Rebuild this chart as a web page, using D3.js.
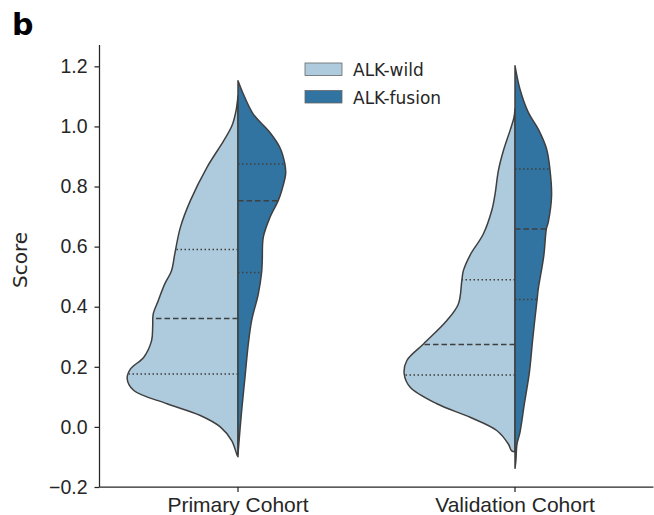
<!DOCTYPE html>
<html lang="en">
<head>
  <meta charset="utf-8">
  <title>Split violin</title>
  <script src="https://cdn.jsdelivr.net/npm/d3@7"></script>
  <style>
    body { margin: 0; background: #fff; }
    svg { display: block; font-family: "DejaVu Sans", sans-serif; }
    .axis path, .axis line { stroke: #262626; stroke-width: 1.25; }
    .axis text { fill: #262626; }
  </style>
</head>
<body>
<script>
  // categories and groups
  var cohorts = ["Primary Cohort", "Validation Cohort"];
  var groups = ["ALK-wild", "ALK-fusion"];
  var yTicks = [-0.2, 0.0, 0.2, 0.4, 0.6, 0.8, 1.0, 1.2];

  // density profiles: [score, relative density]
  var primaryWild = [[-0.099, 0], [-0.096, 0.006], [-0.046, 0.057], [0.0, 0.16], [0.038, 0.34],
    [0.077, 0.64], [0.121, 0.94], [0.16, 1.0], [0.193, 0.97], [0.232, 0.85], [0.287, 0.78],
    [0.334, 0.77], [0.376, 0.765], [0.42, 0.72], [0.477, 0.66], [0.52, 0.6], [0.577, 0.57],
    [0.664, 0.52], [0.753, 0.43], [0.864, 0.28], [0.952, 0.13], [1.002, 0.055], [1.052, 0.018], [1.102, 0]];
  var primaryFusion = [[-0.09, 0], [0.054, 0.033], [0.165, 0.063], [0.276, 0.093], [0.354, 0.123],
    [0.442, 0.183], [0.514, 0.213], [0.553, 0.219], [0.631, 0.228], [0.697, 0.288], [0.753, 0.363],
    [0.786, 0.394], [0.842, 0.43], [0.875, 0.423], [0.93, 0.378], [0.98, 0.288], [1.041, 0.138],
    [1.108, 0.048], [1.152, 0]];
  var validationWild = [[-0.083, 0], [-0.08, 0.03], [-0.057, 0.06], [-0.012, 0.165], [0.032, 0.405],
    [0.077, 0.705], [0.132, 0.946], [0.176, 1.0], [0.221, 0.976], [0.276, 0.826], [0.354, 0.615],
    [0.409, 0.511], [0.487, 0.48], [0.52, 0.466], [0.572, 0.405], [0.642, 0.286], [0.72, 0.21],
    [0.775, 0.18], [0.853, 0.15], [0.919, 0.105], [0.986, 0.045], [1.029, 0.01], [1.059, 0]];
  var validationFusion = [[-0.138, 0], [-0.112, 0.008], [-0.057, 0.018], [-0.018, 0.045], [0.078, 0.085],
    [0.182, 0.13], [0.293, 0.16], [0.426, 0.2], [0.459, 0.21], [0.57, 0.26], [0.659, 0.283],
    [0.681, 0.3], [0.769, 0.33], [0.858, 0.315], [0.925, 0.285], [0.991, 0.21], [1.047, 0.12],
    [1.124, 0.045], [1.202, 0]];

  // quartiles [Q1, median, Q3]
  var primaryWildQ = [0.176, 0.361, 0.59];
  var primaryFusionQ = [0.514, 0.753, 0.875];
  var validationWildQ = [0.173, 0.274, 0.49];
  var validationFusionQ = [0.424, 0.659, 0.858];

  var violins = [
    {cohort: cohorts[0], group: groups[0], dens: primaryWild, q: primaryWildQ},
    {cohort: cohorts[0], group: groups[1], dens: primaryFusion, q: primaryFusionQ},
    {cohort: cohorts[1], group: groups[0], dens: validationWild, q: validationWildQ},
    {cohort: cohorts[1], group: groups[1], dens: validationFusion, q: validationFusionQ}
  ];

  var width = 654, height = 515;
  var lineGray = "#3f3f3f";

  var color = d3.scaleOrdinal().domain(groups).range(["#aecbdd", "#3274a1"]);

  var x = d3.scaleBand().domain(cohorts).range([99.5, 653.5]).padding(0);
  var y = d3.scaleLinear().domain([-0.2, 1.271]).range([487, 45]);
  var w = d3.scaleLinear().domain([0, 1]).range([0, x.bandwidth() * 0.4]);

  var svg = d3.select("body").append("svg")
    .attr("width", width)
    .attr("height", height);

  // linear lookup of the density at a score
  function densAt(dens, v) {
    for (var i = 1; i < dens.length; i++) {
      if (v <= dens[i][0]) {
        var a = dens[i - 1], b = dens[i];
        var t = (v - a[0]) / (b[0] - a[0]);
        return a[1] + t * (b[1] - a[1]);
      }
    }
    return 0;
  }

  violins.forEach(function (d) {
    var cx = x(d.cohort) + x.bandwidth() / 2;
    var side = d.group === groups[0] ? -1 : 1;

    var area = d3.area()
      .y(function (p) { return y(p[0]); })
      .x0(cx)
      .x1(function (p) { return cx + side * w(p[1]); })
      .curve(d3.curveCatmullRom.alpha(0.5));

    svg.append("path")
      .datum(d.dens)
      .attr("d", area)
      .attr("fill", color(d.group))
      .attr("stroke", lineGray)
      .attr("stroke-width", 1.5)
      .attr("stroke-linejoin", "round");

    // quartile lines
    svg.selectAll(null)
      .data(d.q)
      .enter().append("line")
      .attr("x1", cx)
      .attr("x2", function (v) { return cx + side * w(densAt(d.dens, v)); })
      .attr("y1", function (v) { return y(v); })
      .attr("y2", function (v) { return y(v); })
      .attr("stroke", lineGray)
      .attr("stroke-width", 1.5)
      .attr("stroke-dasharray", function (v, i) { return i === 1 ? "5.5,3" : "1.5,2.5"; });
  });

  // axes
  var yAxis = svg.append("g")
    .attr("class", "axis")
    .attr("transform", "translate(99.5,0)")
    .call(d3.axisLeft(y).tickValues(yTicks).tickSize(5).tickPadding(7)
      .tickFormat(d3.format(".1f")));
  yAxis.selectAll("text").style("font-size", "19.5px");
  yAxis.select(".domain").attr("d", "M0," + y.range()[1] + "V" + y.range()[0]);

  var xAxis = svg.append("g")
    .attr("class", "axis")
    .attr("transform", "translate(0," + y(-0.2) + ")")
    .call(d3.axisBottom(x).tickSize(5).tickPadding(5));
  xAxis.selectAll("text").style("font-size", "21px");
  xAxis.select(".domain").attr("d", "M99.5,0H653.5");

  svg.append("text")
    .attr("transform", "translate(27,260) rotate(-90)")
    .attr("text-anchor", "middle")
    .style("font-size", "20px")
    .attr("fill", "#262626")
    .text("Score");

  svg.append("text")
    .attr("x", 12)
    .attr("y", 35)
    .style("font-size", "30px")
    .style("font-weight", "bold")
    .text("b");

  // legend
  var legend = svg.append("g").attr("transform", "translate(305,63)");
  groups.forEach(function (g, i) {
    legend.append("rect")
      .attr("x", 0)
      .attr("y", i * 27.5)
      .attr("width", 37)
      .attr("height", 12.5)
      .attr("fill", color(g))
      .attr("stroke", "#666")
      .attr("stroke-width", 0.8);
    legend.append("text")
      .attr("x", 48)
      .attr("y", i * 27.5 + 13)
      .style("font-size", "17px")
      .attr("fill", "#262626")
      .text(g);
  });
</script>
</body>
</html>
